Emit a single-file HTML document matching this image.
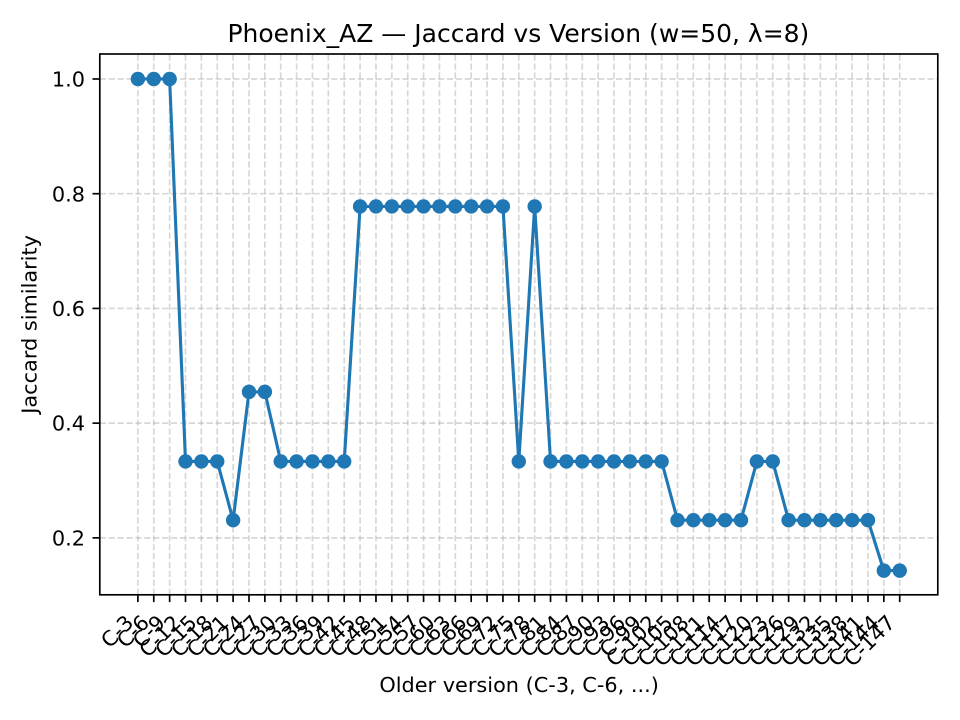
<!DOCTYPE html>
<html lang="en">
<head>
<meta charset="utf-8">
<title>Phoenix_AZ — Jaccard vs Version</title>
<style>
  html, body { margin: 0; padding: 0; background: #fff; }
  svg { display: block; }
  text { font-family: "DejaVu Sans", "Liberation Sans", sans-serif; fill: #000; }
</style>
</head>
<body>
<svg id="chart" xmlns="http://www.w3.org/2000/svg" width="960" height="720" viewBox="0 0 960 720"></svg>
<script>
const categories = ["C-3","C-6","C-9","C-12","C-15","C-18","C-21","C-24","C-27","C-30","C-33","C-36","C-39","C-42","C-45","C-48","C-51","C-54","C-57","C-60","C-63","C-66","C-69","C-72","C-75","C-78","C-81","C-84","C-87","C-90","C-93","C-96","C-99","C-102","C-105","C-108","C-111","C-114","C-117","C-120","C-123","C-126","C-129","C-132","C-135","C-138","C-141","C-144","C-147"];
const jaccardValues = [1,1,1,0.3333,0.3333,0.3333,0.2308,0.4545,0.4545,0.3333,0.3333,0.3333,0.3333,0.3333,0.7778,0.7778,0.7778,0.7778,0.7778,0.7778,0.7778,0.7778,0.7778,0.7778,0.3333,0.7778,0.3333,0.3333,0.3333,0.3333,0.3333,0.3333,0.3333,0.3333,0.2308,0.2308,0.2308,0.2308,0.2308,0.3333,0.3333,0.2308,0.2308,0.2308,0.2308,0.2308,0.2308,0.1429,0.1429];
const yTickValues = [0.2,0.4,0.6,0.8,1.0];
const yTickLabels = ["0.2","0.4","0.6","0.8","1.0"];
const titleText = "Phoenix_AZ — Jaccard vs Version (w=50, λ=8)";
const xAxisTitle = "Older version (C-3, C-6, ...)";
const yAxisTitle = "Jaccard similarity";

const svg = document.getElementById('chart');
const NS = 'http://www.w3.org/2000/svg';
const plot = { left: 99.8, right: 937.8, top: 54, bottom: 594.8 };
const n = categories.length;
const xPad = (plot.right - plot.left) * 0.05 / 1.1;
const dataMin = Math.min(...jaccardValues);
const dataMax = Math.max(...jaccardValues);
const yPad = (dataMax - dataMin) * 0.05;
const yMin = dataMin - yPad;
const yMax = dataMax + yPad;

function xScale(i) {
  return plot.left + xPad + i * (plot.right - plot.left - 2 * xPad) / (n - 1);
}
function yScale(v) {
  return plot.bottom + 0.4 - (v - yMin) / (yMax - yMin) * (plot.bottom - plot.top);
}
function make(tag, attrs, parent) {
  const el = document.createElementNS(NS, tag);
  for (const k in attrs) el.setAttribute(k, attrs[k]);
  (parent || svg).appendChild(el);
  return el;
}

const bg = make('rect', { x: plot.left, y: plot.top, width: plot.right - plot.left, height: plot.bottom - plot.top, fill: '#fff' });



const gridGroup = make('g', { stroke: '#b0b0b0', 'stroke-opacity': 0.5, 'stroke-width': 1.67, 'stroke-dasharray': '6.2 2.7', fill: 'none' });


categories.forEach((c, i) => {
  const g = make('line', { x1: xScale(i), x2: xScale(i), y1: plot.bottom, y2: plot.top }, gridGroup);
  
  
});
yTickValues.forEach(v => {
  const g = make('line', { x1: plot.left, x2: plot.right, y1: yScale(v), y2: yScale(v) }, gridGroup);
  
  
});

const line = make('polyline', {
  points: jaccardValues.map((v, i) => xScale(i) + ',' + yScale(v)).join(' '),
  fill: 'none', stroke: '#1f77b4', 'stroke-width': 3.125, 'stroke-linejoin': 'round', 'stroke-linecap': 'square'
});



jaccardValues.forEach((v, i) => {
  const p = make('circle', { cx: xScale(i), cy: yScale(v), r: 7.2, fill: '#1f77b4' });
  
  
});

const spines = make('rect', { x: plot.left, y: plot.top, width: plot.right - plot.left, height: plot.bottom - plot.top, fill: 'none', stroke: '#000', 'stroke-width': 1.67 });



const xTickLen = 7.3;
categories.forEach((c, i) => {
  const x = xScale(i);
  const tick = make('line', { x1: x, x2: x, y1: plot.bottom, y2: plot.bottom + xTickLen, stroke: '#000', 'stroke-width': 1.67 });
  
  
  const ax = x - 3.2;
  const ay = 624;
  const t = make('text', { x: ax, y: ay, 'text-anchor': 'end', 'font-size': 20.83, transform: 'rotate(-45 ' + ax + ' ' + ay + ')' });
  t.textContent = c;
  
  
});

yTickValues.forEach((v, i) => {
  const y = yScale(v);
  const tick = make('line', { x1: plot.left - xTickLen, x2: plot.left, y1: y, y2: y, stroke: '#000', 'stroke-width': 1.67 });
  
  
  const t = make('text', { x: 85, y: y + 7.6, 'text-anchor': 'end', 'font-size': 20.83 });
  t.textContent = yTickLabels[i];
  
  
});

const title = make('text', { x: (plot.left + plot.right) / 2 - 0.4, y: 42, 'text-anchor': 'middle', 'font-size': 25 });
title.textContent = titleText;



const xt = make('text', { x: (plot.left + plot.right) / 2 + 0.3, y: 692, 'text-anchor': 'middle', 'font-size': 20.83 });
xt.textContent = xAxisTitle;



const ycx = 36.5, ycy = (plot.top + plot.bottom) / 2;
const yt = make('text', { x: ycx, y: ycy, 'text-anchor': 'middle', 'font-size': 20.83, transform: 'rotate(-90 ' + ycx + ' ' + ycy + ')' });
yt.textContent = yAxisTitle;


</script>
</body>
</html>
